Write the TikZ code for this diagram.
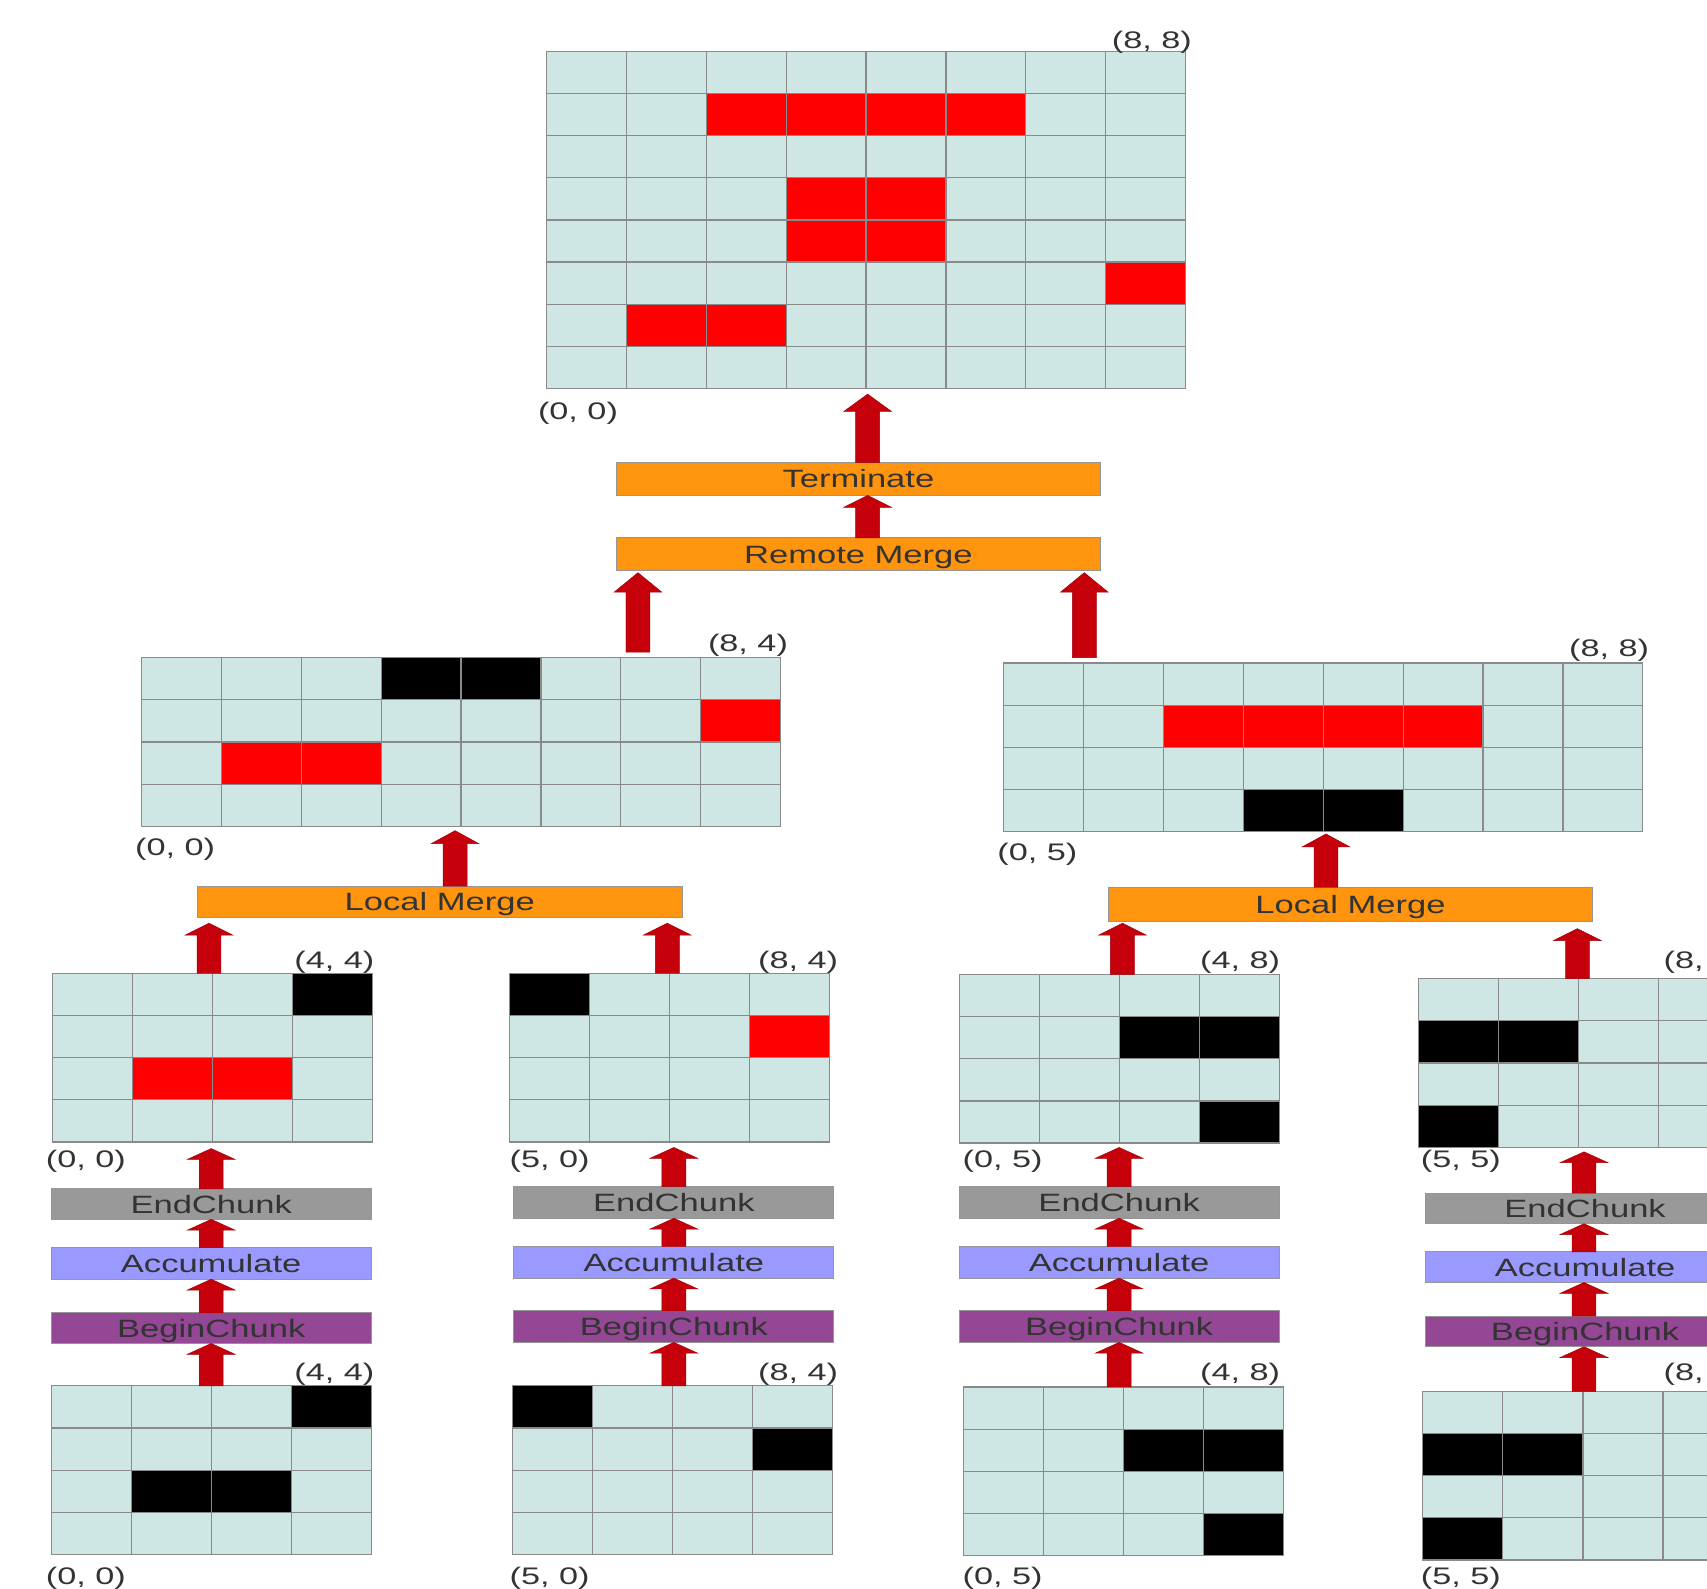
\documentclass[tikz,border=0pt]{standalone}
\usepackage{fontspec}
\setmainfont{Liberation Sans}
\usetikzlibrary{calc}
\definecolor{cellbg}{RGB}{207,231,228}
\definecolor{gline}{RGB}{138,138,138}
\definecolor{redc}{RGB}{255,0,0}
\definecolor{blk}{RGB}{0,0,0}
\definecolor{orng}{RGB}{255,149,14}
\definecolor{greyb}{RGB}{153,153,153}
\definecolor{lilac}{RGB}{153,153,255}
\definecolor{purp}{RGB}{148,71,148}
\definecolor{arrred}{RGB}{197,0,11}
\definecolor{txt}{RGB}{51,51,51}
\definecolor{boxline}{RGB}{150,150,150}
\newcommand{\bt}[1]{\scalebox{1.38}[1]{#1}}
\newcommand{\lt}[1]{\scalebox{1.43}[1]{#1}}
% name, x0, y0, x1, y1, ncols, nrows, coloured cells row/col/colour
\newcommand{\cellgrid}[8]{%
  \coordinate (#1-nw) at (#2,#3);
  \coordinate (#1-se) at (#4,#5);
  \fill[cellbg] (#1-nw) rectangle (#1-se);
  \pgfmathsetmacro\cw{(#4-#2)/#6}%
  \pgfmathsetmacro\ch{(#5-#3)/#7}%
  \foreach \gr/\gc/\gk in {#8} {
    \fill[\gk] ({#2+\gc*\cw},{#3+\gr*\ch}) rectangle ({#2+(\gc+1)*\cw},{#3+(\gr+1)*\ch});
  }
  \pgfmathtruncatemacro\ncm{#6-1}%
  \pgfmathtruncatemacro\nrm{#7-1}%
  \foreach \gi in {1,...,\ncm} {
    \draw[gridln] ({#2+\gi*\cw},#3) -- ({#2+\gi*\cw},#5);
  }
  \foreach \gi in {1,...,\nrm} {
    \draw[gridln] (#2,{#3+\gi*\ch}) -- (#4,{#3+\gi*\ch});
  }
  \draw[gridln] (#1-nw) rectangle (#1-se);
}
% name, x, ybottom, ytip, head length
\newcommand{\blockarr}[5]{%
  \coordinate (#1-s) at (#2,#3);
  \coordinate (#1-t) at (#2,#4);
  \filldraw[bigarrow] ($(#1-s)+(-11,0)$) -- (#2-11,#4+#5) -- (#2-22,#4+#5) -- (#1-t)
     -- (#2+22,#4+#5) -- (#2+11,#4+#5) -- ($(#1-s)+(11,0)$) -- cycle;
}
\begin{document}
\begin{tikzpicture}[x=1pt,y=-1pt,
  gridln/.style={draw=gline, line width=1.1pt},
  bigarrow/.style={fill=arrred, draw=arrred!80!black, line width=0.4pt},
  opbox/.style={draw=boxline, line width=0.9pt, inner sep=0pt, text=txt,
    font=\fontsize{23}{23}\selectfont, text height=16.5pt, text depth=0pt},
  lbl/.style={text=txt, font=\fontsize{22}{22}\selectfont, inner sep=0pt}]
\useasboundingbox (0,0) rectangle (1568,1459);
\clip (0,0) rectangle (1568,1459);

% ---------- grids ----------
\cellgrid{g0}{502}{47}{1089}{357}{8}{8}{1/2/redc,1/3/redc,1/4/redc,1/5/redc,3/3/redc,3/4/redc,4/3/redc,4/4/redc,5/7/redc,6/1/redc,6/2/redc}
\cellgrid{g1}{130}{604}{717}{759}{8}{4}{0/3/blk,0/4/blk,1/7/redc,2/1/redc,2/2/redc}
\cellgrid{g2}{922}{609}{1509}{764}{8}{4}{1/2/redc,1/3/redc,1/4/redc,1/5/redc,3/3/blk,3/4/blk}
\cellgrid{rA}{48}{894}{342}{1049}{4}{4}{0/3/blk,2/1/redc,2/2/redc}
\cellgrid{rB}{468}{894}{762}{1049}{4}{4}{0/0/blk,1/3/redc}
\cellgrid{rC}{881}{895}{1175}{1050}{4}{4}{1/2/blk,1/3/blk,3/3/blk}
\cellgrid{rD}{1303}{899}{1597}{1054}{4}{4}{1/0/blk,1/1/blk,3/0/blk}
\cellgrid{iA}{47}{1273}{341}{1428}{4}{4}{0/3/blk,2/1/blk,2/2/blk}
\cellgrid{iB}{471}{1273}{765}{1428}{4}{4}{0/0/blk,1/3/blk}
\cellgrid{iC}{885}{1274}{1179}{1429}{4}{4}{1/2/blk,1/3/blk,3/3/blk}
\cellgrid{iD}{1307}{1278}{1601}{1433}{4}{4}{1/0/blk,1/1/blk,3/0/blk}

% ---------- corner labels ----------
\node[lbl, anchor=base east] (g0-tl) at (1095,45) {\lt{(8, 8)}};
\node[lbl, anchor=base west] (g0-bl) at (494,385) {\lt{(0, 0)}};
\node[lbl, anchor=base east] (g1-tl) at (724,598) {\lt{(8, 4)}};
\node[lbl, anchor=base west] (g1-bl) at (124,786) {\lt{(0, 0)}};
\node[lbl, anchor=base east] (g2-tl) at (1515,603) {\lt{(8, 8)}};
\node[lbl, anchor=base west] (g2-bl) at (916,790) {\lt{(0, 5)}};
\node[lbl, anchor=base east] (rA-tl) at (344,890) {\lt{(4, 4)}};
\node[lbl, anchor=base west] (rA-bl) at (42,1072) {\lt{(0, 0)}};
\node[lbl, anchor=base east] (rB-tl) at (770,890) {\lt{(8, 4)}};
\node[lbl, anchor=base west] (rB-bl) at (468,1072) {\lt{(5, 0)}};
\node[lbl, anchor=base east] (rC-tl) at (1176,890) {\lt{(4, 8)}};
\node[lbl, anchor=base west] (rC-bl) at (884,1072) {\lt{(0, 5)}};
\node[lbl, anchor=base west] (rD-tl) at (1528,890) {\lt{(8, 8)}};
\node[lbl, anchor=base west] (rD-bl) at (1305,1072) {\lt{(5, 5)}};
\node[lbl, anchor=base east] (iA-tl) at (344,1268) {\lt{(4, 4)}};
\node[lbl, anchor=base west] (iA-bl) at (42,1455) {\lt{(0, 0)}};
\node[lbl, anchor=base east] (iB-tl) at (770,1268) {\lt{(8, 4)}};
\node[lbl, anchor=base west] (iB-bl) at (468,1455) {\lt{(5, 0)}};
\node[lbl, anchor=base east] (iC-tl) at (1176,1268) {\lt{(4, 8)}};
\node[lbl, anchor=base west] (iC-bl) at (884,1455) {\lt{(0, 5)}};
\node[lbl, anchor=base west] (iD-tl) at (1528,1268) {\lt{(8, 8)}};
\node[lbl, anchor=base west] (iD-bl) at (1305,1455) {\lt{(5, 5)}};

% ---------- operation boxes ----------
\node[opbox, fill=orng, minimum width=445pt, minimum height=30pt] (term) at (788.5,440) {\bt{Terminate}};
\node[opbox, fill=orng, minimum width=445pt, minimum height=30pt] (rmerge) at (788.5,509) {\bt{Remote Merge}};
\node[opbox, fill=orng, minimum width=446pt, minimum height=29pt] (lmL) at (404,828.5) {\bt{Local Merge}};
\node[opbox, fill=orng, minimum width=445pt, minimum height=31pt] (lmR) at (1240.5,830.5) {\bt{Local Merge}};

\node[opbox, fill=greyb, minimum width=294pt, minimum height=28pt] (endA) at (194,1106) {\bt{EndChunk}};
\node[opbox, fill=lilac, minimum width=294pt, minimum height=29pt] (accA) at (194,1160.5) {\bt{Accumulate}};
\node[opbox, fill=purp, minimum width=294pt, minimum height=28pt] (begA) at (194,1220) {\bt{BeginChunk}};

\node[opbox, fill=greyb, minimum width=294pt, minimum height=29pt] (endB) at (619,1104.5) {\bt{EndChunk}};
\node[opbox, fill=lilac, minimum width=294pt, minimum height=29pt] (accB) at (619,1159.5) {\bt{Accumulate}};
\node[opbox, fill=purp, minimum width=294pt, minimum height=29pt] (begB) at (619,1218.5) {\bt{BeginChunk}};

\node[opbox, fill=greyb, minimum width=294pt, minimum height=29pt] (endC) at (1028,1104.5) {\bt{EndChunk}};
\node[opbox, fill=lilac, minimum width=294pt, minimum height=29pt] (accC) at (1028,1159.5) {\bt{Accumulate}};
\node[opbox, fill=purp, minimum width=294pt, minimum height=29pt] (begC) at (1028,1218.5) {\bt{BeginChunk}};

\node[opbox, fill=greyb, minimum width=294pt, minimum height=28pt] (endD) at (1456,1110) {\bt{EndChunk}};
\node[opbox, fill=lilac, minimum width=294pt, minimum height=28pt] (accD) at (1456,1164) {\bt{Accumulate}};
\node[opbox, fill=purp, minimum width=294pt, minimum height=28pt] (begD) at (1456,1223) {\bt{BeginChunk}};

% ---------- block arrows ----------
\blockarr{a0}{797}{425}{362}{16}
\blockarr{a1}{797}{494}{455}{11}
\blockarr{a2}{586}{599}{526}{18}
\blockarr{a3}{996}{604}{526}{18}
\blockarr{a4}{418}{814}{763}{12}
\blockarr{a5}{1218}{815}{766}{12}
\blockarr{a6}{192}{894}{848}{11}
\blockarr{a7}{613}{894}{848}{11}
\blockarr{a8}{1031}{895}{848}{11}
\blockarr{a9}{1449}{899}{853}{11}

\blockarr{aA1}{194}{1092}{1055}{10}
\blockarr{aA2}{194}{1146}{1120}{10}
\blockarr{aA3}{194}{1206}{1175}{10}
\blockarr{aA4}{194}{1273}{1234}{10}

\blockarr{aB1}{619}{1090}{1054}{10}
\blockarr{aB2}{619}{1145}{1119}{10}
\blockarr{aB3}{619}{1204}{1174}{10}
\blockarr{aB4}{619}{1273}{1233}{10}

\blockarr{aC1}{1028}{1090}{1054}{10}
\blockarr{aC2}{1028}{1145}{1119}{10}
\blockarr{aC3}{1028}{1204}{1174}{10}
\blockarr{aC4}{1028}{1274}{1233}{10}

\blockarr{aD1}{1455}{1096}{1058}{10}
\blockarr{aD2}{1455}{1150}{1124}{10}
\blockarr{aD3}{1455}{1209}{1178}{10}
\blockarr{aD4}{1455}{1278}{1237}{10}
\end{tikzpicture}
\end{document}
